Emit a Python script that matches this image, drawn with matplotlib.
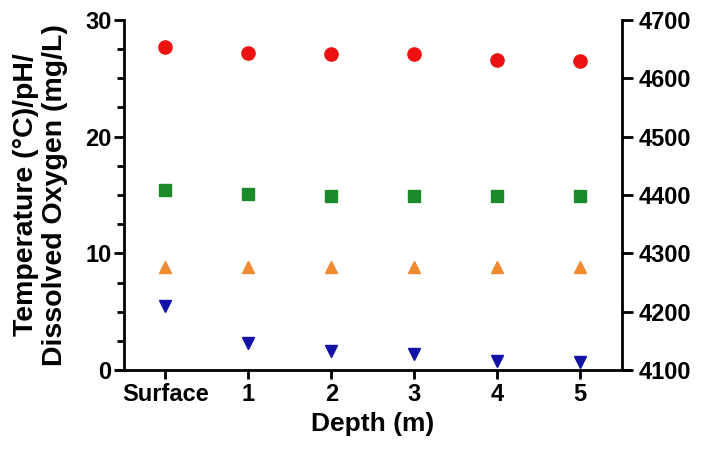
import numpy as np
import matplotlib.pyplot as plt

plt.rcParams['font.family'] = ['Liberation Sans', 'DejaVu Sans']
plt.rcParams['font.weight'] = 'bold'

depths = ['Surface', '1', '2', '3', '4', '5']
temperature = [27.7, 27.2, 27.1, 27.1, 26.6, 26.5]
ph = [8.8, 8.8, 8.8, 8.8, 8.8, 8.8]
dissolved_oxygen = [5.5, 2.3, 1.65, 1.35, 0.8, 0.65]
conductivity = [4408, 4401, 4399, 4399, 4399, 4399]

x = np.arange(len(depths))

fig = plt.figure(figsize=(7.02, 4.54), dpi=100)
ax = fig.add_axes([0.1766, 0.185, 0.709, 0.771])
ax2 = ax.twinx()

ax.plot(x, temperature, linestyle='none', marker='o', markersize=9.5, color='#ee1111', zorder=3)
ax.plot(x, ph, linestyle='none', marker='^', markersize=9, color='#f08a30', zorder=3)
ax.plot(x, dissolved_oxygen, linestyle='none', marker='v', markersize=9, color='#1212a8', zorder=3)
ax2.plot(x, conductivity, linestyle='none', marker='s', markersize=8.5, color='#1a8a2a', zorder=3)

ax.set_xlim(-0.5, 5.5)
ax.set_ylim(0, 30)
ax2.set_ylim(4100, 4700)

ax.set_yticks([0, 10, 20, 30])
ax.set_yticks(np.arange(0, 30.1, 2.5), minor=True)
ax2.set_yticks(np.arange(4100, 4701, 100))
ax.set_xticks(x)
ax.set_xticklabels(depths)

for a in (ax, ax2):
    a.spines['top'].set_visible(False)
    for s in a.spines.values():
        s.set_linewidth(2)
ax.spines['right'].set_visible(False)
ax2.spines['left'].set_visible(False)
ax2.spines['bottom'].set_visible(False)
ax.spines['bottom'].set_bounds(-0.6, 5.6)

ax.tick_params(axis='x', which='major', labelsize=17, width=2, length=6.5, pad=3)
ax.tick_params(axis='y', which='major', labelsize=17, width=2, length=7, pad=2)
ax.tick_params(axis='y', which='minor', width=2, length=5)
ax2.tick_params(axis='y', which='major', labelsize=17, width=2, length=8, pad=4)

ax.set_xlabel('Depth (m)', fontsize=19, fontweight='bold', labelpad=4)
ax.set_ylabel('Temperature (°C)/pH/\nDissolved Oxygen (mg/L)', fontsize=20.5,
              fontweight='bold', labelpad=12, linespacing=1.15)

fig.savefig('out.png', dpi=100)
